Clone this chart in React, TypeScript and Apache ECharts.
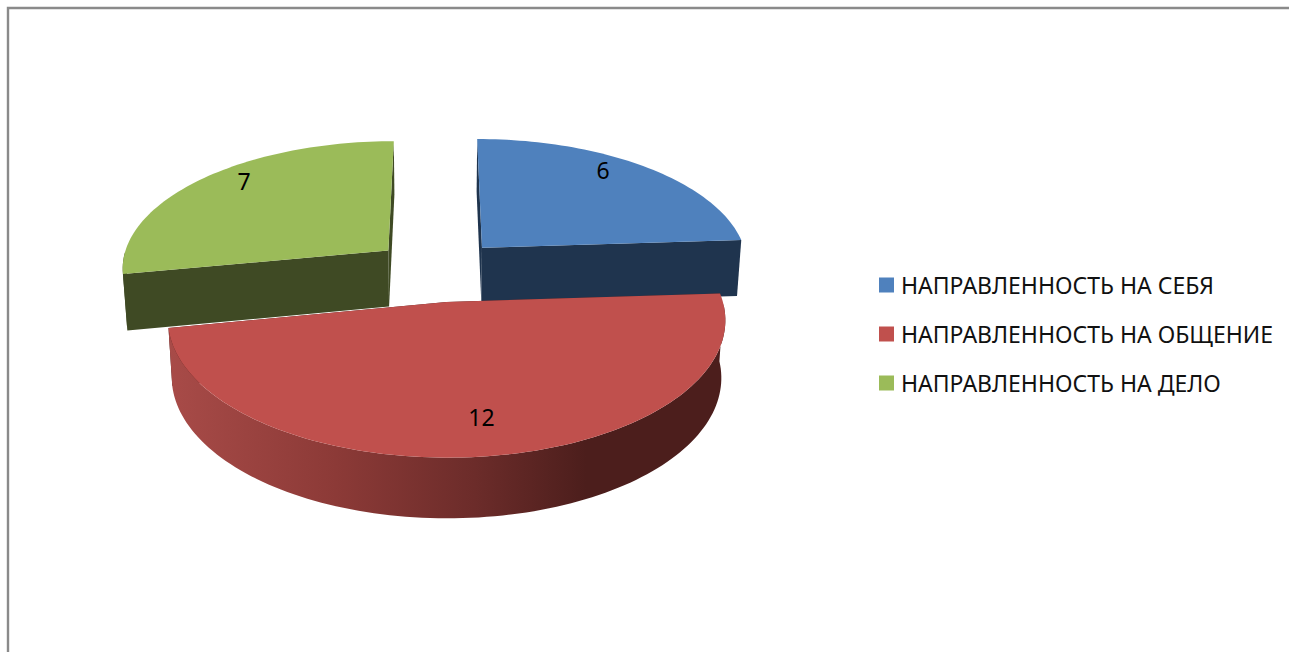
import React, { useEffect, useRef } from "react";
import * as echarts from "echarts";

const categories = ["НАПРАВЛЕННОСТЬ НА СЕБЯ", "НАПРАВЛЕННОСТЬ НА ОБЩЕНИЕ", "НАПРАВЛЕННОСТЬ НА ДЕЛО"];
const values = [6, 12, 7];
const topColors = ["#4f81bd", "#c0504d", "#9bbb59"];
const wallColors = ["#1f344e", "#4c1e1c", "#3f4a24"];
const labelRadii = [0.735, 0.87, 0.77];
const labelLifts = [16, 17, 13];
const drawOrder = [2, 3, 2];

const FONT = '"Noto Sans", sans-serif';
const view = { cx: 438, cy: 270, fx: 268, fy: 127.5, k: 0.125, explode: 0.245, wall: 56.5, wallK: 0.055, shrink: 0.986 };

const project = (X: number, Z: number): [number, number] => {
  const w = 1 + view.k * Z;
  return [view.cx + (view.fx * X) / w, view.cy - (view.fy * Z) / w];
};
const drop = (p: [number, number], Z: number): [number, number] => [
  view.cx + (p[0] - view.cx) * view.shrink,
  p[1] + view.wall / (1 + view.wallK * Z),
];

const total = values.reduce((a, b) => a + b, 0);

function renderSlice(index: number) {
  return (_params: any, api: any) => {
    const value = api.value(0);
    const before = values.slice(0, index).reduce((a, b) => a + b, 0);
    const a0 = (before / total) * Math.PI * 2;
    const a1 = a0 + (value / total) * Math.PI * 2;
    const mid = (a0 + a1) / 2;
    const X0 = view.explode * Math.sin(mid);
    const Z0 = view.explode * Math.cos(mid);
    const rimZ = (t: number) => Z0 + Math.cos(t);
    const rim = (t: number) => project(X0 + Math.sin(t), rimZ(t));
    const apex = project(X0, Z0);
    const apexLow = drop(apex, Z0);

    const steps = Math.ceil((a1 - a0) / (Math.PI / 120));
    const angles: number[] = [];
    for (let i = 0; i <= steps; i++) angles.push(a0 + ((a1 - a0) * i) / steps);

    const children: any[] = [];
    const wallFill = wallColors[index];

    // radial walls
    [a0, a1].forEach((t) => {
      const p = rim(t);
      children.push({
        type: "polygon",
        shape: { points: [apex, p, drop(p, rimZ(t)), apexLow] },
        style: { fill: wallFill },
      });
    });

    // front-facing outer wall
    const front = angles.filter((t) => Math.cos(t) < 0);
    if (front.length > 1) {
      const upper = front.map(rim);
      const lower = front.map((t) => drop(rim(t), rimZ(t))).reverse();
      children.push({
        type: "polygon",
        shape: { points: [...upper, ...lower] },
        style: {
          fill:
            index === 1
              ? new echarts.graphic.LinearGradient(0, 0, 1, 0, [
                  { offset: 0, color: "#a84b48" },
                  { offset: 0.3, color: "#8c3a37" },
                  { offset: 0.55, color: "#6c2c2a" },
                  { offset: 0.75, color: "#4c1e1c" },
                  { offset: 1, color: "#4c1e1c" },
                ])
              : wallFill,
        },
      });
    }

    // top face
    children.push({
      type: "polygon",
      shape: { points: [apex, ...angles.map(rim)] },
      style: { fill: topColors[index] },
    });

    // value label
    const rho = labelRadii[index];
    const lp = project(X0 + rho * Math.sin(mid), Z0 + rho * Math.cos(mid));
    children.push({
      type: "text",
      style: {
        text: String(value),
        x: lp[0],
        y: lp[1] - labelLifts[index],
        fill: "#000000",
        font: `23px ${FONT}`,
        align: "center",
        verticalAlign: "middle",
      },
    });

    return { type: "group", children };
  };
}

export default function App() {
  const ref = useRef<HTMLDivElement>(null);
  useEffect(() => {
    const chart = echarts.init(ref.current!, undefined, { renderer: "svg" });
    chart.setOption({
      animation: false,
      backgroundColor: "#ffffff",
      legend: {
        orient: "vertical",
        left: 874,
        top: 266,
        icon: "rect",
        itemWidth: 15,
        itemHeight: 15,
        itemGap: 21,
        data: categories,
        selectedMode: false,
        textStyle: { fontFamily: FONT, fontSize: 23, color: "#111111", padding: [0, 0, 0, 2], lineHeight: 28 },
      },
      graphic: [
        {
          type: "polyline",
          shape: { points: [[8, 700], [8, 8], [1340, 8]] },
          style: { stroke: "#8a8a8a", lineWidth: 2.4, fill: "none" },
        },
      ],
      series: categories.map((name, i) => ({
        type: "custom",
        name,
        coordinateSystem: "none",
        z: drawOrder[i],
        itemStyle: { color: topColors[i] },
        renderItem: renderSlice(i),
        data: [[values[i]]],
      })),
    });
    return () => chart.dispose();
  }, []);
  return <div ref={ref} style={{ position: "fixed", left: 0, top: 0, width: 1289, height: 652 }} />;
}
